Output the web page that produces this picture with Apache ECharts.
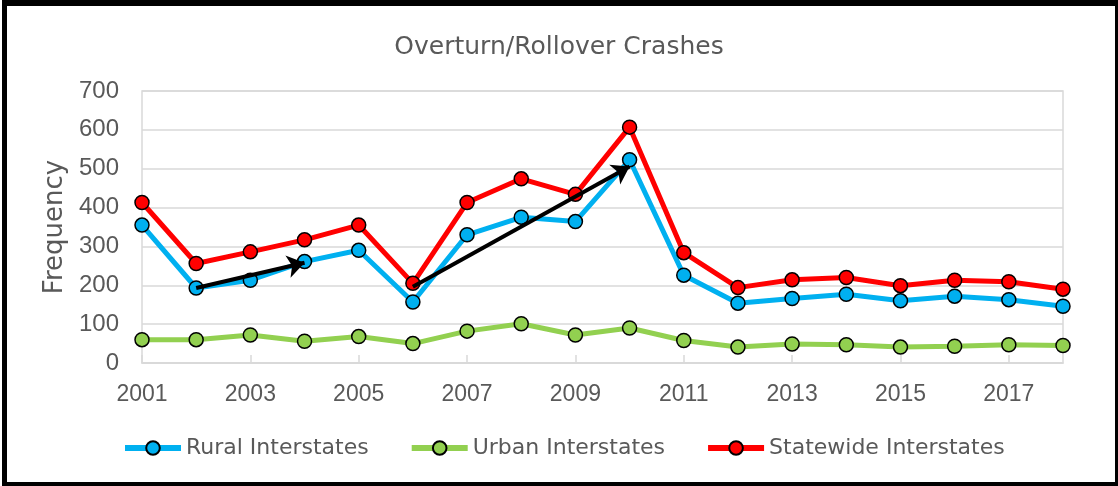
<!DOCTYPE html>
<html>
<head>
<meta charset="utf-8">
<script src="https://cdn.jsdelivr.net/npm/echarts@6/dist/echarts.min.js"></script>
<style>
  html, body { margin: 0; padding: 0; background: #fff; }
  #chart { position: absolute; left: 0; top: 0; width: 1118px; height: 486px; }
  #frame {
    position: absolute; left: 2px; top: 0; width: 1116px; height: 486px;
    box-sizing: border-box; border: solid #000; border-width: 6px 3px 4px 5px;
    pointer-events: none;
  }
</style>
</head>
<body>
<div id="chart"></div>
<div id="frame"></div>
<script>
const years = ['2001', '2002', '2003', '2004', '2005', '2006', '2007', '2008', '2009',
  '2010', '2011', '2012', '2013', '2014', '2015', '2016', '2017', '2018'];
const rural = [355, 193, 213, 261, 290, 157, 330, 375, 364, 523, 226, 154, 166, 177, 160, 172, 163, 146];
const urban = [60, 60, 72, 56, 68, 50, 82, 101, 72, 90, 58, 41, 49, 47, 41, 43, 47, 45];
const statewide = [413, 256, 286, 317, 355, 205, 413, 474, 434, 607, 284, 194, 214, 220, 199, 213, 209, 190];
// trend arrows: [start index, start value, end index, end value]
const arrows = [
  [1, 193, 3, 258],
  [5, 196, 9, 506]
];

const textFont = 'DejaVu Sans';
const numFont = 'Liberation Sans';
const grey = '#595959';

const chart = echarts.init(document.getElementById('chart'));

function lineSeries(name, data, color) {
  return {
    name: name,
    type: 'line',
    data: data,
    symbol: 'circle',
    symbolSize: 14,
    lineStyle: { color: color, width: 5 },
    itemStyle: { color: color, borderColor: '#000', borderWidth: 1.5 },
    emphasis: { disabled: true }
  };
}

chart.setOption({
  animation: false,
  backgroundColor: '#fff',
  title: {
    text: 'Overturn/Rollover Crashes',
    left: 'center',
    top: 30,
    textStyle: { fontFamily: textFont, fontSize: 25, fontWeight: 'normal', color: grey }
  },
  grid: {
    left: 142, right: 55, top: 91, bottom: 123,
    show: true, borderColor: '#d9d9d9', borderWidth: 1.5
  },
  legend: {
    left: 117,
    top: 432,
    itemWidth: 56,
    itemHeight: 17,
    itemGap: 40,
    textStyle: { fontFamily: textFont, fontSize: 22, color: grey },
    lineStyle: { width: 6 },
    data: ['Rural Interstates', 'Urban Interstates', 'Statewide Interstates']
  },
  xAxis: {
    type: 'category',
    data: years,
    boundaryGap: false,
    axisLine: { lineStyle: { color: '#d9d9d9', width: 1.5 } },
    axisTick: { show: true, inside: true, length: 8, interval: 1, lineStyle: { color: '#d9d9d9', width: 1.5 } },
    axisLabel: { interval: 1, margin: 20, fontFamily: numFont, fontSize: 23, color: grey }
  },
  yAxis: {
    type: 'value',
    min: 0,
    max: 700,
    interval: 100,
    name: 'Frequency',
    nameLocation: 'middle',
    nameGap: 64,
    nameTextStyle: { fontFamily: textFont, fontSize: 26, color: grey },
    axisLine: { show: false },
    axisTick: { show: false },
    axisLabel: { margin: 23, fontFamily: numFont, fontSize: 24, color: grey },
    splitLine: { lineStyle: { color: '#d9d9d9', width: 1.5 } }
  },
  series: [
    lineSeries('Rural Interstates', rural, '#00B0F0'),
    lineSeries('Urban Interstates', urban, '#92D050'),
    lineSeries('Statewide Interstates', statewide, '#FF0000'),
    {
      name: 'arrows',
      type: 'line',
      data: [],
      z: 10,
      markLine: {
        silent: true,
        symbol: ['none', 'arrow'],
        symbolSize: 17,
        label: { show: false },
        lineStyle: { color: '#000', width: 4, type: 'solid' },
        emphasis: { disabled: true },
        data: arrows.map(a => [{ coord: [a[0], a[1]] }, { coord: [a[2], a[3]] }])
      }
    }
  ]
});
</script>
</body>
</html>
